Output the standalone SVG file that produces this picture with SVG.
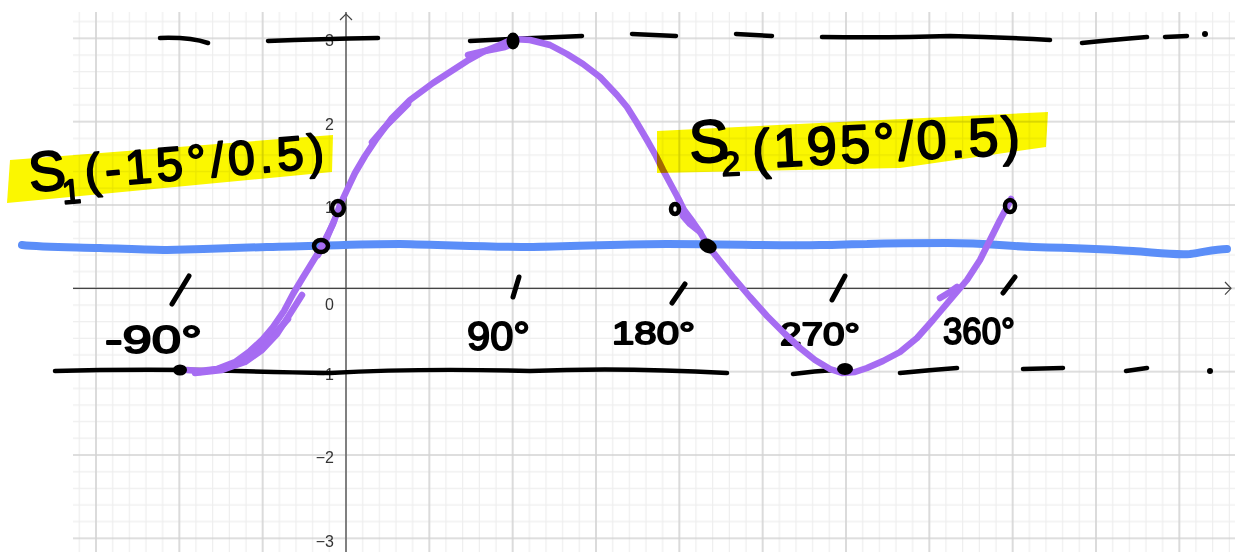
<svg xmlns="http://www.w3.org/2000/svg" width="1235" height="552" viewBox="0 0 1235 552">
<style>
.tick{font-family:"Liberation Sans",Arial,sans-serif;font-size:16px;fill:#333;text-anchor:end}
.hand{font-family:"Liberation Sans",Arial,sans-serif;font-weight:400;fill:#000;stroke:#000;stroke-width:1.8;stroke-linejoin:round}
.blk{stroke:#000;stroke-width:4.5;fill:none;stroke-linecap:round;stroke-linejoin:round}
.pur{stroke:#a66cf2;stroke-width:6.5;fill:none;stroke-linecap:round;stroke-linejoin:round}
.blue{stroke:#5b8ef8;stroke-width:8;fill:none;stroke-linecap:round;stroke-linejoin:round}
.hl{fill:#fbf700;mix-blend-mode:multiply}
.axis{stroke:#444;stroke-width:1.2;fill:none}
.dot{fill:#000}
.ring{fill:none;stroke:#000;stroke-width:4.5}
.mark{stroke:#000;stroke-width:5;stroke-linecap:round}
</style>
<defs>
<pattern id="grid" patternUnits="userSpaceOnUse" x="304.333" y="246.667" width="83.333" height="83.333">
<path d="M8.333 0V83.333M25 0V83.333M58.333 0V83.333M75 0V83.333M0 8.333H83.333M0 25H83.333M0 58.333H83.333M0 75H83.333" stroke="#eeeeee" stroke-width="1.2"/>
<path d="M41.667 0V83.333M0 41.667H83.333" stroke="#d3d3d3" stroke-width="1.6"/>
</pattern>
</defs>
<rect width="1235" height="552" fill="#fff"/>
<g id="grid-area">
<rect x="73" y="12" width="1162" height="540" fill="url(#grid)"/>
</g>
<g id="axes">
<path class="axis" d="M346 12V552M73 288.3H1231"/>
<path class="axis" d="M340 20L346 14L352 20M1225 282L1231 288.3L1225 294.6"/>
<text class="tick" x="334" y="46">3</text>
<text class="tick" x="334" y="130">2</text>
<text class="tick" x="334" y="213">1</text>
<text class="tick" x="334" y="310">0</text>
<text class="tick" x="334" y="380">−1</text>
<text class="tick" x="334" y="463">−2</text>
<text class="tick" x="334" y="547">−3</text>
</g>
<g id="dashed-max">
<path class="blk" d="M160 38Q190 37 208 43M268 41Q320 39 378 38M470 41Q530 38 582 36M632 34L676 36M736 34L772 36M822 37Q890 38 950 36Q1000 37 1050 40M1082 43Q1110 40 1147 37M1165 37L1187 36"/>
<circle class="dot" cx="1205" cy="34" r="3"/>
</g>
<g id="dashed-min">
<path class="blk" d="M55 371Q120 369 200 370Q270 372 330 373Q420 368 530 371Q620 367 727 373M793 374Q815 371 835 370M900 373Q930 370 957 368M1023 369L1063 368M1126 371L1147 368"/>
<circle class="dot" cx="1210" cy="371" r="3"/>
</g>
<g id="blue-line">
<path class="blue" d="M22 245C40 247 60 247 100 248C130 249 150 250 167 250C200 249 240 248 267 247C320 246 360 244 400 244C450 245 490 247 533 247C590 246 630 244 667 244C730 244 780 246 820 245C840 245 850 244 867 244C900 243 920 243 947 243C985 243 1005 246 1033 247C1070 248 1100 249 1133 251C1160 253 1175 255 1190 254C1205 252 1215 249 1227 249"/>
</g>
<g id="x-labels">
<text class="hand" x="105" y="353" font-size="38" textLength="97" lengthAdjust="spacingAndGlyphs">-90°</text>
<text class="hand" x="467" y="350" font-size="40" textLength="63" lengthAdjust="spacingAndGlyphs">90°</text>
<text class="hand" x="612" y="344" font-size="32" textLength="83" lengthAdjust="spacingAndGlyphs">180°</text>
<text class="hand" x="780" y="345" font-size="32" textLength="80" lengthAdjust="spacingAndGlyphs">270°</text>
<text class="hand" x="943" y="344" font-size="36" textLength="72" lengthAdjust="spacingAndGlyphs">360°</text>
</g>
<g id="tick-marks">
<line class="mark" x1="189" y1="276" x2="172" y2="304"/>
<line class="mark" x1="519" y1="277" x2="513" y2="297"/>
<line class="mark" x1="685" y1="284" x2="672" y2="303"/>
<line class="mark" x1="845" y1="276" x2="832" y2="300"/>
<line class="mark" x1="1015" y1="277" x2="1003" y2="293"/>
</g>
<g id="sine-curve">
<polyline class="pur" points="187,370 200,371 217,369 235,362 250,351 262,340 273,327 284,311 293,294 302,279 310,266 318,253 324,242 333,224 340,205 347,190 355,173 365,156 377,138 392,118 410,100 433,83 450,72 467,61 485,51 500,45 513,39 530,40 550,45 567,54 583,64 600,77 617,95 627,107 637,123 647,140 656,156 663,170 670,183 677,196 684,210 693,222 700,232 708,246 720,261 733,277 750,297 767,316 785,334 800,348 815,360 830,369 842,373 855,372 867,368 883,361 900,352 917,338 933,320 950,300 967,280 980,260 990,240 1000,220 1007,207 1011,199"/>
<polyline class="pur" points="200,372 225,368 248,358 265,345 280,328 288,319"/>
<polyline class="pur" points="195,373 222,370 245,362 262,350 277,334 290,314 302,295"/>
<polyline class="pur" points="318,255 326,240 334,221"/>
<polyline class="pur" points="372,142 384,128 396,116 408,104"/>
<polyline class="pur" points="468,55 485,51 505,47 515,43"/>
<polyline class="pur" points="679,200 683,216 690,224 700,232"/>
<polyline class="pur" points="940,298 950,292 957,287"/>
</g>
<g id="highlights">
<polygon class="hl" points="10,160 333,135 332,172 7,203"/>
<polygon class="hl" points="657,131 860,121 1048,112 1046,147 900,168 657,173"/>
</g>
<g id="points">
<ellipse class="dot" cx="180" cy="370" rx="7" ry="5.5"/>
<ellipse class="dot" cx="513" cy="41" rx="6.5" ry="8.5"/>
<ellipse class="ring" cx="321" cy="246" rx="7" ry="6"/>
<ellipse class="dot" cx="708" cy="246" rx="9" ry="7" transform="rotate(25 708 246)"/>
<ellipse class="dot" cx="845" cy="369" rx="8" ry="6"/>
<ellipse class="ring" cx="1010" cy="206" rx="5" ry="6" stroke-width="4"/>
<ellipse class="ring" cx="675" cy="209" rx="4" ry="5" stroke-width="3.5"/>
<ellipse class="ring" cx="338" cy="208" rx="6" ry="7" stroke-width="4"/>
</g>
<g id="label-S1">
<text class="hand" x="30" y="192" font-size="56" transform="rotate(-5 30 192)">S</text>
<text class="hand" x="63" y="204" font-size="34" transform="rotate(-5 63 204)">1</text>
<text class="hand" x="86" y="188" font-size="48" textLength="240" transform="rotate(-5 86 188)">(-15°/0.5)</text>
</g>
<g id="label-S2">
<text class="hand" x="690" y="163" font-size="60" transform="rotate(-3 690 163)">S</text>
<text class="hand" x="722" y="176" font-size="34" transform="rotate(-3 722 176)">2</text>
<text class="hand" x="753" y="168" font-size="54" textLength="268" transform="rotate(-3 753 168)">(195°/0.5)</text>
</g>
</svg>
